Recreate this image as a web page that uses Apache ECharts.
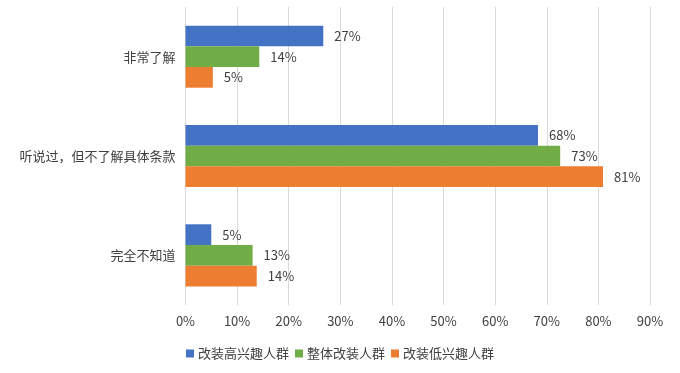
<!DOCTYPE html>
<html><head><meta charset="utf-8">
<script src="https://cdn.jsdelivr.net/npm/echarts@6/dist/echarts.min.js"></script>
<style>html,body{margin:0;padding:0;background:#fff}#c{width:680px;height:373px}</style>
</head><body><div id="c"></div>
<script>
const categories = ['非常了解', '听说过，但不了解具体条款', '完全不知道'];
const seriesNames = ['改装高兴趣人群', '整体改装人群', '改装低兴趣人群'];
const highInterest = [26.7, 68.3, 5.0];
const overall = [14.3, 72.6, 13.0];
const lowInterest = [5.3, 80.9, 13.8];
const xTicks = [0, 10, 20, 30, 40, 50, 60, 70, 80, 90];
const colors = ['#4472C4', '#70AD47', '#ED7D31'];
const font = '"Noto Sans CJK SC", "Noto Sans", sans-serif';

const chart = echarts.init(document.getElementById('c'));
const mk = (name, data, color) => ({
  name, type: 'bar', data, barGap: '0%', barCategoryGap: '37.5%',
  itemStyle: { color },
  label: { show: true, position: 'right', distance: 11, color: '#404040', fontSize: 13, fontFamily: font,
    formatter: p => Math.round(p.value) + '%' }
});
chart.setOption({
  animation: false,
  textStyle: { fontFamily: font },
  grid: { left: 185.5, right: 30, top: 7, bottom: 68, containLabel: false },
  legend: {
    data: seriesNames, bottom: 8, left: 'center', icon: 'rect', itemWidth: 8, itemHeight: 8, itemGap: 6,
    textStyle: { fontSize: 13, color: '#404040', fontFamily: font, padding: [0,0,0,-1] }
  },
  xAxis: {
    type: 'value', min: xTicks[0], max: xTicks[xTicks.length - 1], interval: 10,
    axisLine: { show: false }, axisTick: { show: false },
    splitLine: { show: true, lineStyle: { color: '#d9d9d9', width: 1 } },
    axisLabel: { formatter: v => v + '%', color: '#404040', fontSize: 13, fontFamily: font, margin: 10 }
  },
  yAxis: {
    type: 'category', data: categories, inverse: true,
    axisLine: { show: false }, axisTick: { show: false },
    axisLabel: { color: '#404040', fontSize: 13, fontFamily: font, margin: 10 }
  },
  series: [
    mk(seriesNames[0], highInterest, colors[0]),
    mk(seriesNames[1], overall, colors[1]),
    mk(seriesNames[2], lowInterest, colors[2])
  ]
});
</script></body></html>
